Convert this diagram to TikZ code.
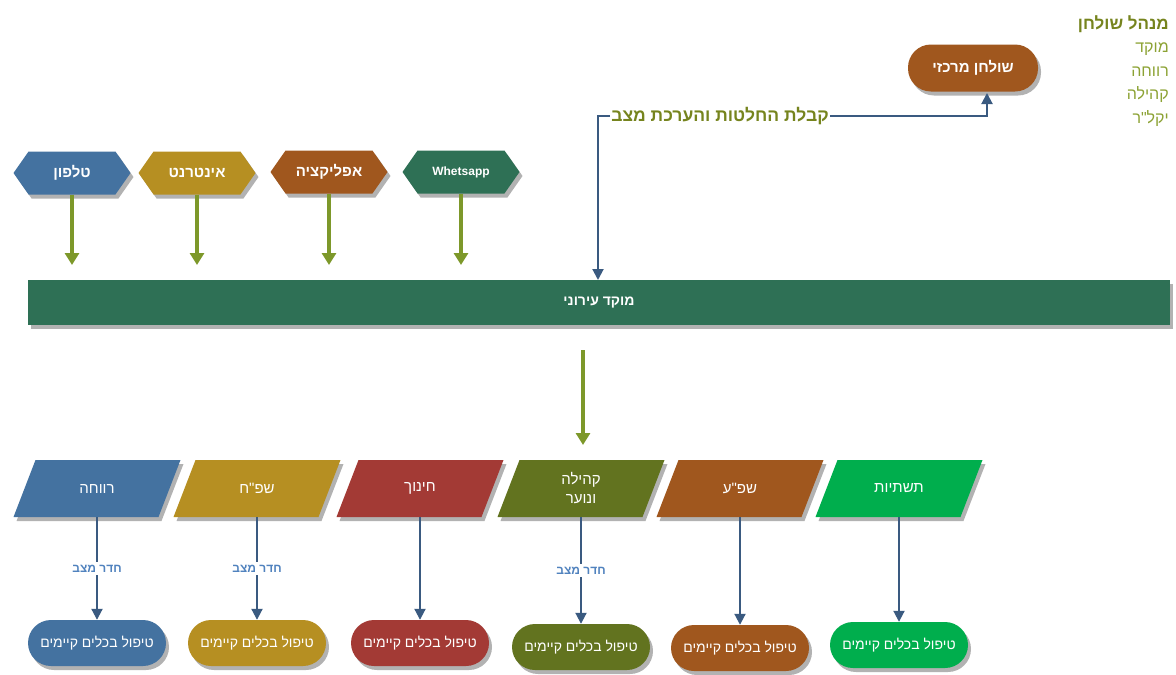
\documentclass[tikz,border=0pt]{standalone}
\usepackage{fontspec}
\setmainfont{Liberation Sans}
\newfontfamily\hebfont[Script=Hebrew]{Liberation Sans}
\TeXXeTstate=1
\usetikzlibrary{shapes.symbols,shadows,arrows.meta}

\newcommand{\heb}[1]{{\hebfont\beginR #1\endR}}

\definecolor{cblue}{RGB}{68,114,160}
\definecolor{cgold}{RGB}{182,143,34}
\definecolor{cbrown}{RGB}{160,87,30}
\definecolor{cdgreen}{RGB}{46,112,85}
\definecolor{cred}{RGB}{163,58,53}
\definecolor{colive}{RGB}{98,115,31}
\definecolor{cgreen}{RGB}{0,174,77}
\definecolor{arrowolive}{RGB}{125,152,42}
\definecolor{lineblue}{RGB}{58,90,128}
\definecolor{labelblue}{RGB}{80,130,190}
\definecolor{legdark}{RGB}{118,132,30}
\definecolor{leglight}{RGB}{140,162,52}

\begin{document}
\begin{tikzpicture}[x=1pt,y=-1pt,>=Triangle]
                \tikzstyle{shade}=[drop shadow={shadow xshift=3pt,shadow yshift=-4pt,fill=black!30,opacity=1}]
                \tikzstyle{hexa}=[signal,signal to=west and east,signal pointer angle=110,minimum width=117pt,minimum height=43pt,inner sep=0pt,text=white,font=\bfseries\fontsize{15}{18}\selectfont,shade]
                \tikzstyle{paral}=[minimum height=57pt,inner sep=0pt,text=white,align=center,font=\fontsize{15}{19}\selectfont]
                \tikzstyle{pill}=[rectangle,rounded corners=23pt,minimum width=138pt,minimum height=46pt,text=white,font=\fontsize{14}{17}\selectfont,shade]
                \tikzstyle{oarrow}=[draw=arrowolive,line width=4pt,-{Triangle[width=14pt,length=12pt]}]
                \tikzstyle{barrow}=[draw=lineblue,line width=2pt,-{Triangle[width=11pt,length=11pt]}]
                \tikzstyle{room}=[midway,fill=white,inner sep=3pt,text=labelblue,font=\bfseries\fontsize{12}{14}\selectfont]
                \useasboundingbox (0,0) rectangle (1176,675);
                % legend
                \node[anchor=north east,align=right,inner sep=0pt,text=leglight,font=\fontsize{16}{23.5}\selectfont] (legend) at (1169,15)
                    {\textcolor{legdark}{\bfseries\fontsize{17}{23.5}\selectfont\heb{מנהל שולחן}}\\\heb{מוקד}\\\heb{רווחה}\\\heb{קהילה}\\\heb{יקל"ר}};
                % central desk
                \node[pill,fill=cbrown,minimum width=130pt,minimum height=47pt,font=\bfseries\fontsize{15}{18}\selectfont] (shulchan) at (973,68) {\heb{שולחן מרכזי}};
                \node[inner sep=1pt,text=legdark,font=\bfseries\fontsize{17.5}{20}\selectfont] (decide) at (720,116) {\heb{קבלת החלטות והערכת מצב}};
                % channels
                \node[hexa,fill=cblue] (tel) at (72,173) {\heb{טלפון}};
                \node[hexa,fill=cgold] (inet) at (197,173) {\heb{אינטרנט}};
                \node[hexa,fill=cbrown] (app) at (329,172) {\heb{אפליקציה}};
                \node[hexa,fill=cdgreen,font=\bfseries\fontsize{12}{14}\selectfont] (wa) at (461,172) {Whetsapp};
                % city call centre
                \node[rectangle,fill=cdgreen,minimum width=1142pt,minimum height=45pt,text=white,font=\bfseries\fontsize{14}{17}\selectfont,shade] (moked) at (599,302.5) {\heb{מוקד עירוני}};
                \coordinate (tel-e) at (72,265);
                \coordinate (inet-e) at (197,265);
                \coordinate (app-e) at (329,265);
                \coordinate (wa-e) at (461,265);
                \coordinate (sh-in) at (987,93);
                \coordinate (mk-in) at (598,280);
                \coordinate (down-s) at (583,350);
                \coordinate (down-e) at (583,445);
                \draw[oarrow] (tel) -- (tel-e);
                \draw[oarrow] (inet) -- (inet-e);
                \draw[oarrow] (app) -- (app-e);
                \draw[oarrow] (wa) -- (wa-e);
                \draw[barrow] (decide.east) -| (sh-in);
                \draw[barrow] (decide.west) -| (mk-in);
                \draw[oarrow] (down-s) -- (down-e);
                % departments
                \foreach \x/\c in {97/cblue,257/cgold,420/cred,581/colive,740/cbrown,899/cgreen}
                    \fill[\c,shade] (\x-61.5,460) -- (\x+83.5,460) -- (\x+61.5,517) -- (\x-83.5,517) -- cycle;
                \node[paral] (p1) at (97,488.5) {\heb{רווחה}};
                \node[paral] (p2) at (257,488.5) {\heb{שפ"ח}};
                \node[paral] (p3) at (420,488.5) {\heb{חינוך}};
                \node[paral] (p4) at (581,488.5) {\heb{קהילה}\\\heb{ונוער}};
                \node[paral] (p5) at (740,488.5) {\heb{שפ"ע}};
                \node[paral] (p6) at (899,488.5) {\heb{תשתיות}};
                \node[pill,fill=cblue] (t1) at (97,643) {\heb{טיפול בכלים קיימים}};
                \node[pill,fill=cgold] (t2) at (257,643) {\heb{טיפול בכלים קיימים}};
                \node[pill,fill=cred] (t3) at (420,643) {\heb{טיפול בכלים קיימים}};
                \node[pill,fill=colive] (t4) at (581,647) {\heb{טיפול בכלים קיימים}};
                \node[pill,fill=cbrown] (t5) at (740,648) {\heb{טיפול בכלים קיימים}};
                \node[pill,fill=cgreen] (t6) at (899,645) {\heb{טיפול בכלים קיימים}};
                \draw[barrow] (p1) -- node[room]{\heb{חדר מצב}} (t1);
                \draw[barrow] (p2) -- node[room]{\heb{חדר מצב}} (t2);
                \draw[barrow] (p3) -- (t3);
                \draw[barrow] (p4) -- node[room]{\heb{חדר מצב}} (t4);
                \draw[barrow] (p5) -- (t5);
                \draw[barrow] (p6) -- (t6);
            \end{tikzpicture}
\end{document}
